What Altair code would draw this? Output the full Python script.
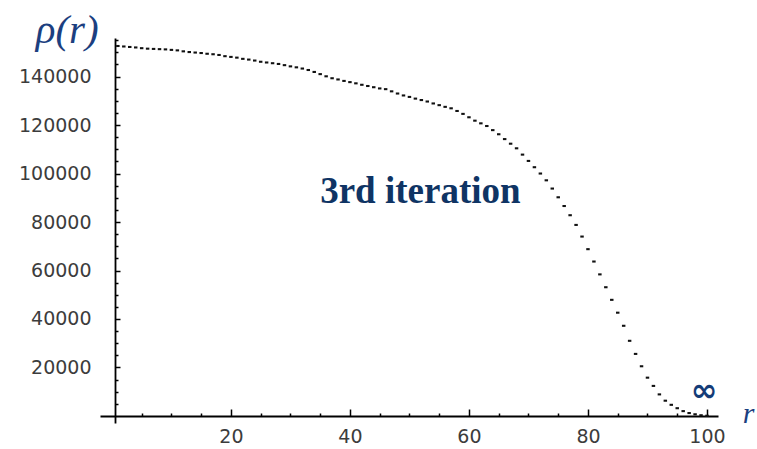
import altair as alt
import pandas as pd

# Radial density profile after the third iteration
radius = list(range(1, 101))
density = [
    152600, 152400, 152200, 152000, 151700, 151500, 151400, 151300, 151200, 151000,
    150800, 150400, 150100, 149900, 149700, 149400, 149200, 148900, 148400, 148100,
    147800, 147300, 147000, 146600, 146100, 145800, 145500, 145200, 144700, 144200,
    143800, 143300, 142700, 141900, 141000, 140100, 139300, 138800, 138200, 137700,
    137200, 136600, 136100, 135600, 135100, 134800, 133900, 133000, 132200, 131600,
    130900, 130300, 129700, 128900, 128200, 127500, 126900, 125800, 124600, 123200,
    121800, 120700, 119600, 117900, 116200, 114200, 112300, 110400, 107800, 105200,
    102600, 100000, 97200, 93800, 90200, 86600, 82800, 78800, 74000, 68800,
    63700, 58400, 53100, 47900, 42600, 37200, 31000, 25600, 20500, 15800,
    12400, 8900, 6300, 4600, 3200, 2000, 1200, 700, 300, 100,
]

x_label_values = [20, 40, 60, 80, 100]
y_label_values = [20000, 40000, 60000, 80000, 100000, 120000, 140000]
x_tick_values = list(range(5, 101, 5))
y_tick_values = list(range(5000, 155001, 5000))

# Annotation texts and where they sit in data space
rho_text, rho_r, rho_v = ["ρ(r)"], [-12.8], [153800]
iter_text, iter_r, iter_v = ["3rd iteration"], [35.0], [87800]
inf_text, inf_r, inf_v = ["∞"], [99.5], [10300]
rvar_text, rvar_r, rvar_v = ["r"], [106.0], [-2900]

df = pd.DataFrame({"r": radius, "rho": density})

W, H = 618, 385
x_scale = alt.Scale(domain=[-2.0, 101.85], nice=False, zero=False)
y_scale = alt.Scale(domain=[-2900, 155900], nice=False, zero=False)

label_font = "DejaVu Sans"
label_color = "#3c3c3c"

points = alt.Chart(df).mark_point(
    shape="M-1,-0.6H1V0.6H-1Z", filled=True, size=12, color="#111111", opacity=1
).encode(
    x=alt.X("r:Q", scale=x_scale, axis=alt.Axis(
        orient="bottom", offset=-7, values=x_label_values, format="d",
        ticks=False, grid=False, domainColor="#000000", domainWidth=1.8,
        labelFont=label_font, labelFontSize=19, labelColor=label_color,
        labelPadding=11, title=None)),
    y=alt.Y("rho:Q", scale=y_scale, axis=alt.Axis(
        orient="left", offset=-15, values=y_label_values, format="d",
        ticks=False, grid=False, domainColor="#000000", domainWidth=1.8,
        labelFont=label_font, labelFontSize=19, labelColor=label_color,
        labelPadding=24, title=None)),
)

# Inward-pointing tick marks sitting on the axes through the origin
ticks = alt.Chart(df).mark_point(opacity=0).encode(
    x=alt.X("r:Q", scale=x_scale, axis=alt.Axis(
        orient="top", offset=-378, values=x_tick_values, domain=False,
        labels=False, grid=False, tickColor="#000000", tickWidth=1.5,
        tickSize={"condition": {"test": "datum.value % 20 === 0", "value": 7}, "value": 3},
        title=None)),
    y=alt.Y("rho:Q", scale=y_scale, axis=alt.Axis(
        orient="right", offset=-603, values=y_tick_values, domain=False,
        labels=False, grid=False, tickColor="#000000", tickWidth=1.5,
        tickSize={"condition": {"test": "datum.value % 20000 === 0", "value": 5}, "value": 3},
        title=None)),
)


def note(text, rr, vv, **mark):
    data = pd.DataFrame({"t": text, "r": rr, "v": vv})
    return alt.Chart(data).mark_text(**mark).encode(
        x=alt.X("r:Q", scale=x_scale, axis=None),
        y=alt.Y("v:Q", scale=y_scale, axis=None),
        text="t:N",
    )


rho_label = note(rho_text, rho_r, rho_v, font="Liberation Serif", fontStyle="italic",
                 fontSize=41, color="#1c3f80", align="left", baseline="alphabetic")
iter_label = note(iter_text, iter_r, iter_v, font="Liberation Serif", fontWeight="bold",
                  fontSize=37, color="#0f3464", align="left", baseline="alphabetic")
inf_label = note(inf_text, inf_r, inf_v, font="DejaVu Sans", fontWeight="bold",
                 fontSize=32, color="#143c78", align="center", baseline="middle")
r_label = note(rvar_text, rvar_r, rvar_v, font="Liberation Serif", fontStyle="italic",
               fontSize=30, color="#1c3f80", align="left", baseline="alphabetic")

chart = alt.layer(
    points, ticks, rho_label, iter_label, inf_label, r_label
).resolve_axis(
    x="independent", y="independent"
).properties(
    width=W, height=H,
    padding={"left": 100, "top": 38, "right": 39, "bottom": 26},
    autosize=alt.AutoSizeParams(type="none"),
    background="white",
).configure_view(stroke=None)

chart.save("out.html", embed_options={"renderer": "svg", "actions": False})
